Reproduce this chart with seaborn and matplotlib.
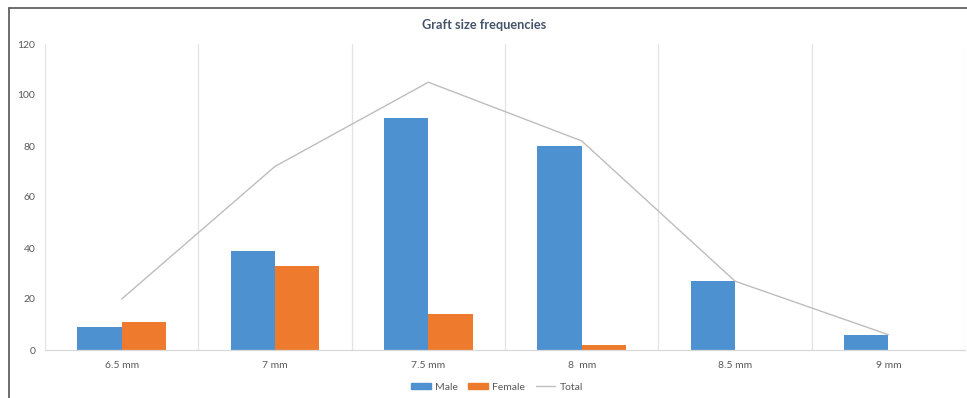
import numpy as np
import pandas as pd
import matplotlib
matplotlib.use("Agg")
import matplotlib.pyplot as plt
from matplotlib.lines import Line2D
import seaborn as sns

categories = ["6.5 mm", "7 mm", "7.5 mm", "8  mm", "8.5 mm", "9 mm"]
male = [9, 39, 91, 80, 27, 6]
female = [11, 33, 14, 2, 0, 0]
total = [20, 72, 105, 82, 27, 6]
y_ticks = [0, 20, 40, 60, 80, 100, 120]

sns.set_theme(style="white")
plt.rcParams['font.family'] = ['Lato', 'DejaVu Sans']

df = pd.DataFrame({
    "cat": categories * 2,
    "value": male + female,
    "sex": ["Male"] * len(categories) + ["Female"] * len(categories),
})

fig = plt.figure(figsize=(9.67, 3.98), dpi=100)
ax = fig.add_axes([45 / 967, 48 / 398, 920 / 967, 306 / 398])

blue = "#4D91D0"
orange = "#EE7A2E"
sns.barplot(data=df, x="cat", y="value", hue="sex", order=categories,
            hue_order=["Male", "Female"], palette=[blue, orange],
            width=0.58, saturation=1, ax=ax, legend=False, linewidth=0)
sns.lineplot(x=np.arange(len(categories)), y=total, color="#BDBDBD",
             linewidth=1.0, ax=ax)

ax.set_xlim(-0.5, len(categories) - 0.5)
ax.set_ylim(0, 120)
ax.set_yticks(y_ticks)
ax.set_xlabel("")
ax.set_ylabel("")
for b in np.arange(-0.5, len(categories), 1.0):
    ax.axvline(b, color="#E3E3E3", linewidth=0.9, zorder=0)
for s in ["top", "right", "left"]:
    ax.spines[s].set_visible(False)
ax.spines["bottom"].set_color("#D9D9D9")
ax.spines["bottom"].set_linewidth(0.9)
ax.tick_params(axis="both", length=0, labelsize=7.5, labelcolor="#595959")
ax.tick_params(axis="y", pad=7)
ax.tick_params(axis="x", pad=8)

fig.text(484 / 967, 1 - 25 / 398, "Graft size frequencies", ha="center",
         va="center", fontsize=9.2, fontweight="bold", color="#44546A")

handles = [
    plt.Rectangle((0, 0), 1, 1, color=blue),
    plt.Rectangle((0, 0), 1, 1, color=orange),
    Line2D([0], [0], color="#BDBDBD", linewidth=1.0),
]
fig.legend(handles, ["Male", "Female", "Total"], loc="center",
           bbox_to_anchor=(497 / 967, 1 - 387 / 398), ncol=3, frameon=False,
           fontsize=7.5, labelcolor="#595959", handlelength=1.9,
           handleheight=0.5, handletextpad=0.4, columnspacing=1.0)

fig.add_artist(Line2D([9 / 967, 9 / 967], [0, 1 - 7.5 / 398],
                      transform=fig.transFigure, color="#555555", linewidth=1.2))
fig.add_artist(Line2D([9 / 967, 1], [1 - 7.5 / 398, 1 - 7.5 / 398],
                      transform=fig.transFigure, color="#555555", linewidth=1.2))

fig.savefig("out.png", dpi=100)
